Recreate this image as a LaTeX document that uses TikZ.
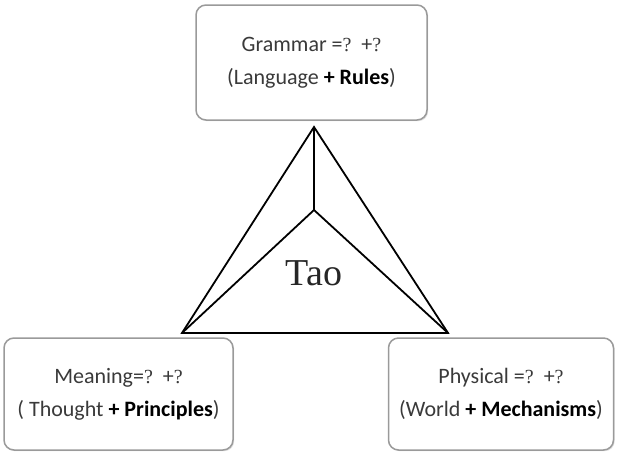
\documentclass[tikz,border=0pt]{standalone}
\usepackage{fontspec}
\setmainfont{Carlito}
\newfontfamily\taofont{Liberation Serif}
\usetikzlibrary{shadows}
\definecolor{boxline}{HTML}{9A9A9A}
\definecolor{txt}{HTML}{3A3A3A}
\newcommand{\qm}{{\taofont\fontsize{20}{20}\selectfont ?}}
\tikzset{
  infobox/.style={draw=boxline, line width=1.5pt, rounded corners=10pt, fill=white,
    align=center, text=txt, inner sep=0pt,
    font=\fontsize{22}{33}\selectfont,
    drop shadow={shadow xshift=1.2pt, shadow yshift=-1.2pt, opacity=0.25, fill=gray}},
  edge/.style={line width=1.8pt, black, line join=miter},
}
\begin{document}
\begin{tikzpicture}[x=1pt,y=-1pt]
\useasboundingbox (0,0) rectangle (617,455);
% boxes
\node[infobox, minimum width=231pt, minimum height=115pt] (gram) at (311.5,62.5)
  {Grammar =\qm\ \ +\qm\\(Language \textbf{\color{black}+ Rules})};
\node[infobox, minimum width=229pt, minimum height=112pt] (mean) at (118.5,394)
  {Meaning=\qm\ \ +\qm\\( Thought \textbf{\color{black}+ Principles})};
\node[infobox, minimum width=225pt, minimum height=112pt] (phys) at (501,394)
  {Physical =\qm\ \ +\qm\\(World \textbf{\color{black}+ Mechanisms})};
% triangle
\coordinate (apex) at (314,127);
\coordinate (bl) at (182,333);
\coordinate (br) at (448,333);
\coordinate (mid) at (314,210);
\draw[edge] (apex) -- (bl) -- (br) -- cycle;
\draw[edge] (mid) -- (apex);
\draw[edge] (mid) -- (bl);
\draw[edge] (mid) -- (br);
\node[font=\taofont\fontsize{38}{38}\selectfont, text=black!85, anchor=base] (tao) at (314,285) {Tao};
\end{tikzpicture}
\end{document}
